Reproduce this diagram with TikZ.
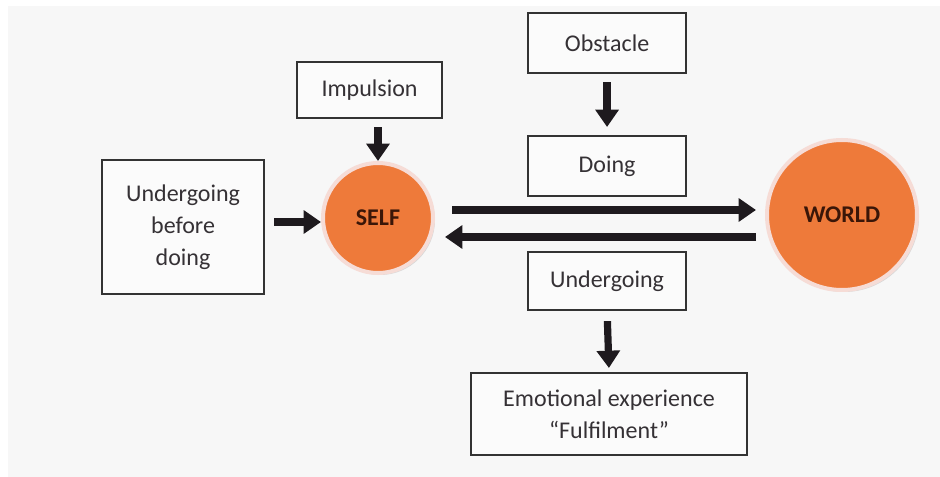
\documentclass[tikz,border=0pt]{standalone}
\usepackage{fontspec}
\setmainfont{Carlito}
\usetikzlibrary{arrows.meta,shadows}
\definecolor{paper}{HTML}{F7F7F7}
\definecolor{boxline}{HTML}{333333}
\definecolor{ballfill}{HTML}{EE7A3A}
\definecolor{ballring}{HTML}{F6DCD6}
\definecolor{balltext}{HTML}{3A1608}
\definecolor{ink}{HTML}{1E1A1E}
\begin{document}
\begin{tikzpicture}[x=0.75pt,y=-0.75pt,
  txt/.style={font=\fontsize{18}{24}\selectfont, text=ink!90, align=center},
  stagebox/.style={txt, draw=boxline, line width=1.6pt, fill=white!50!paper,
    inner sep=0pt, anchor=north west},
  ball/.style={circle, fill=ballfill, draw=ballring, line width=3pt,
    drop shadow={shadow xshift=1.5pt, shadow yshift=-1.5pt, opacity=0.25},
    font=\fontsize{18}{22}\selectfont\bfseries, text=balltext, inner sep=0pt},
  arr/.style={draw=ink, line width=5.4pt,
    -{Triangle[width=17pt,length=13pt]}}
]
\useasboundingbox (0,0) rectangle (940,477);
\fill[white] (0,0) rectangle (940,477);
\fill[paper] (8,6) rectangle (940,477);

% boxes (positioned by their top-left corners)
\node[stagebox, minimum width=158*0.75pt, minimum height=60*0.75pt]
  (obst) at (527,12) {Obstacle};
\node[stagebox, minimum width=145*0.75pt, minimum height=56*0.75pt]
  (imp) at (296,61) {Impulsion};
\node[stagebox, minimum width=162*0.75pt, minimum height=134*0.75pt]
  (before) at (101,159) {Undergoing\\before\\doing};
\node[stagebox, minimum width=158*0.75pt, minimum height=60*0.75pt]
  (doing) at (527,135) {Doing};
\node[stagebox, minimum width=158*0.75pt, minimum height=58*0.75pt]
  (under) at (527,251) {Undergoing};
\node[stagebox, minimum width=276*0.75pt, minimum height=82*0.75pt]
  (emot) at (470,372) {Emotional experience\\``Fulfilment''};

% the two circles
\node[ball, minimum size=110*0.75pt] (self) at (378,218) {SELF};
\node[ball, minimum size=150*0.75pt] (world) at (842,215) {WORLD};

% anchor points for the horizontal exchange arrows
\coordinate (selfR1) at (452,210);
\coordinate (worldL1) at (756,210);
\coordinate (worldL2) at (756,237);
\coordinate (selfR2) at (445,237);

% connectors
\draw[arr, shorten <=8*0.75pt, shorten >=0pt] (imp.south -| self) -- (self.north);
\draw[arr] (before.east |- self) ++(9,4) coordinate (b1) -- (self.west |- b1) coordinate (b2);
\draw[arr, shorten <=8*0.75pt, shorten >=8*0.75pt] (obst.south) -- (doing.north);
\draw[arr] (selfR1) -- (worldL1);
\draw[arr] (worldL2) -- (selfR2);
\draw[arr, shorten <=10*0.75pt, shorten >=4*0.75pt] (under.south) -- (emot.north);
\end{tikzpicture}
\end{document}
